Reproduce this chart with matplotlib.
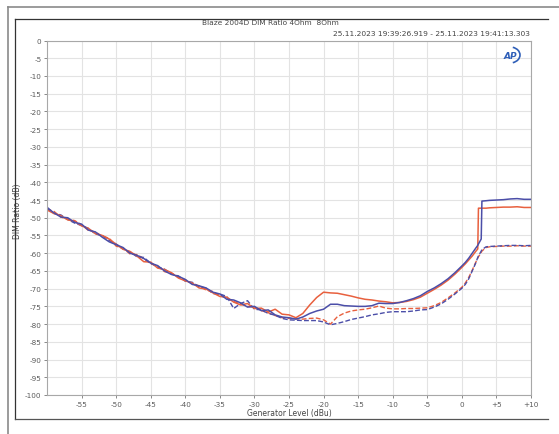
import matplotlib
matplotlib.use("Agg")
import matplotlib.pyplot as plt
from matplotlib.lines import Line2D
from matplotlib.patches import Arc

# Generator level sweep (dBu)
level_dbu = [-60, -59, -58, -57, -56, -55, -54, -53, -52, -51, -50, -49, -48, -47, -46,
             -45, -44, -43, -42, -41, -40, -39, -38, -37, -36, -35, -34, -33, -32, -31,
             -30, -29, -28, -27, -26, -25, -24, -23, -22, -21, -20, -19, -18, -17, -16,
             -15, -14, -13, -12, -11, -10, -9, -8, -7, -6, -5, -4, -3, -2, -1,
             0, 0.5, 1, 1.5, 2, 2.3, 2.4, 2.8, 2.9, 3.5, 4, 5, 6, 7, 8, 9, 10]

# DIM ratio (dB), 4 Ohm load
dim_4ohm_solid = [-47.8, -48.8, -49.4, -50.6, -51.0, -52.3, -53.0, -54.5, -55.0, -56.0,
                  -57.5, -58.9, -59.5, -60.8, -62.4, -62.5, -64.2, -64.6, -65.5, -67.0,
                  -67.8, -68.4, -69.8, -70.1, -71.2, -72.2, -72.4, -73.8, -74.6, -74.2,
                  -75.6, -75.5, -76.6, -75.8, -77.2, -77.4, -78.2, -77.0, -74.6, -72.5,
                  -71.0, -71.2, -71.3, -71.7, -72.1, -72.6, -73.0, -73.2, -73.5, -73.7,
                  -74.0, -73.9, -73.6, -73.1, -72.4, -71.3, -70.2, -69.0, -67.6, -65.9,
                  -64.0, -63.0, -61.9, -60.8, -59.5, -58.8, -47.3, -47.3, -47.3, -47.3,
                  -47.2, -47.1, -47.0, -47.0, -46.9, -47.1, -47.1]

# DIM ratio (dB), 8 Ohm load
dim_8ohm_solid = [-47.2, -48.6, -49.8, -50.0, -51.3, -51.8, -53.5, -54.0, -55.5, -56.8,
                  -57.6, -58.4, -60.0, -60.6, -61.5, -62.8, -63.5, -65.0, -66.0, -66.5,
                  -67.4, -68.8, -69.2, -69.8, -71.0, -71.5, -73.0, -73.2, -74.0, -75.2,
                  -75.0, -76.2, -76.0, -77.4, -78.0, -78.2, -78.6, -78.0, -77.0, -76.3,
                  -75.8, -74.4, -74.4, -74.8, -74.9, -75.0, -75.0, -74.8, -74.1, -74.2,
                  -74.2, -73.9, -73.4, -72.8, -72.0, -70.8, -69.8, -68.6, -67.2, -65.5,
                  -63.6, -62.6, -61.4, -60.0, -58.6, -57.8, -57.4, -56.0, -45.3, -45.2,
                  -45.1, -45.0, -44.9, -44.7, -44.6, -44.8, -44.8]

# Second sweep, 4 Ohm load
dim_4ohm_dashed = [-47.6, -48.2, -49.8, -50.4, -50.8, -52.0, -53.6, -54.0, -55.2, -55.8,
                   -58.0, -58.6, -60.2, -60.4, -61.5, -63.0, -63.6, -65.2, -65.6, -66.8,
                   -67.5, -68.6, -69.2, -70.4, -70.8, -72.0, -72.6, -73.6, -74.4, -75.0,
                   -75.2, -76.2, -76.8, -77.6, -78.2, -78.4, -78.5, -78.6, -78.4, -78.3,
                   -78.8, -80.0, -77.9, -76.9, -76.3, -76.0, -75.8, -75.4, -74.9, -75.5,
                   -75.7, -75.7, -75.6, -75.6, -75.5, -75.4, -74.8, -73.9, -72.6, -71.2,
                   -69.6, -68.4, -66.8, -64.8, -62.6, -61.4, -61.0, -59.8, -59.4, -58.4,
                   -58.2, -58.1, -58.0, -58.0, -57.9, -58.0, -58.0]

# Second sweep, 8 Ohm load
dim_8ohm_dashed = [-47.0, -48.8, -49.2, -50.5, -51.5, -52.2, -53.0, -54.6, -55.0, -56.4,
                   -57.4, -58.8, -59.6, -61.0, -61.2, -62.8, -63.9, -64.5, -65.9, -66.4,
                   -67.9, -68.2, -69.5, -69.8, -71.4, -71.5, -72.2, -75.6, -74.2, -73.4,
                   -75.8, -76.0, -77.0, -77.5, -78.4, -78.8, -78.9, -79.0, -79.0, -79.0,
                   -79.4, -80.2, -79.8, -79.3, -78.7, -78.3, -77.9, -77.4, -77.1, -76.7,
                   -76.5, -76.5, -76.5, -76.3, -76.0, -75.9, -75.2, -74.3, -73.0, -71.5,
                   -69.9, -68.8, -67.2, -65.0, -62.8, -61.2, -60.8, -59.4, -59.0, -58.2,
                   -58.1, -58.0, -57.9, -57.8, -57.8, -57.9, -57.8]

x_ticks = [-55, -50, -45, -40, -35, -30, -25, -20, -15, -10, -5, 0, 5, 10]
x_tick_labels = ["-55", "-50", "-45", "-40", "-35", "-30", "-25", "-20", "-15",
                 "-10", "-5", "0", "+5", "+10"]
y_ticks = list(range(0, -101, -5))
y_tick_labels = [str(v) for v in y_ticks]

title = "Blaze 2004D DIM Ratio 4Ohm  8Ohm"
timestamp = "25.11.2023 19:39:26.919 - 25.11.2023 19:41:13.303"

RED = "#e8603e"
BLUE = "#4b4ea8"

W, H = 559, 435
fig = plt.figure(figsize=(W / 100, H / 100), dpi=100)
fig.patch.set_facecolor("white")

ax = fig.add_axes([47 / W, 1 - 396 / H, (531 - 47) / W, (396 - 41.5) / H])
ax.set_xlim(-60, 10)
ax.set_ylim(-100, 0)

ax.grid(True, color="#e3e3e3", linewidth=0.8)
ax.set_axisbelow(True)
ax.set_xticks(x_ticks)
ax.set_xticklabels(x_tick_labels)
ax.set_yticks(y_ticks)
ax.set_yticklabels(y_tick_labels)
ax.tick_params(axis="both", labelsize=5.2, colors="#5a5a5a", length=2, width=0.5,
               pad=2)
for s in ax.spines.values():
    s.set_color("#a8a8a8")
    s.set_linewidth(0.8)

dash = (0, (3.5, 1.6))
ax.plot(level_dbu, dim_4ohm_dashed, color=RED, lw=1.0, ls=dash)
ax.plot(level_dbu, dim_8ohm_dashed, color=BLUE, lw=1.0, ls=dash)
ax.plot(level_dbu, dim_4ohm_solid, color=RED, lw=1.1)
ax.plot(level_dbu, dim_8ohm_solid, color=BLUE, lw=1.1)

ax.set_xlabel("Generator Level (dBu)", fontsize=5.5, color="#444444", labelpad=1)
ax.set_ylabel("DIM Ratio (dB)", fontsize=5.5, color="#444444")
ax.yaxis.set_label_coords(-0.052, 0.52)

fig.text(270 / W, 1 - 23 / H, title, fontsize=5.3, color="#444444",
         ha="center", va="center")
fig.text(530 / W, 1 - 34 / H, timestamp, fontsize=5.4, color="#444444",
         ha="right", va="center")

# AP badge in the upper right of the plot area
fig.text(510 / W, 1 - 56.5 / H, "AP", fontsize=6.5, color="#2f5fb8",
         fontweight="bold", fontstyle="italic", ha="center", va="center")
arc_ax = fig.add_axes([498 / W, 1 - 66 / H, 24 / W, 20 / H])
arc_ax.set_xlim(0, 24)
arc_ax.set_ylim(0, 20)
arc_ax.axis("off")
arc_ax.add_patch(Arc((12, 10), 20, 16, theta1=-70, theta2=70, color="#2f5fb8", lw=1.2))

# window frames
def hline(y, x0, x1, color, lw):
    fig.add_artist(Line2D([x0 / W, x1 / W], [1 - y / H, 1 - y / H], color=color, lw=lw))

def vline(x, y0, y1, color, lw):
    fig.add_artist(Line2D([x / W, x / W], [1 - y0 / H, 1 - y1 / H], color=color, lw=lw))

hline(7.5, 7.5, 559, "#8a8a8a", 1.2)
vline(7.5, 7.5, 435, "#8a8a8a", 1.2)
hline(19.5, 14.5, 548, "#333333", 0.9)
vline(14.5, 19.5, 419.5, "#333333", 0.9)
hline(419.5, 14.5, 548, "#555555", 0.9)

fig.savefig("out.png", dpi=100)
